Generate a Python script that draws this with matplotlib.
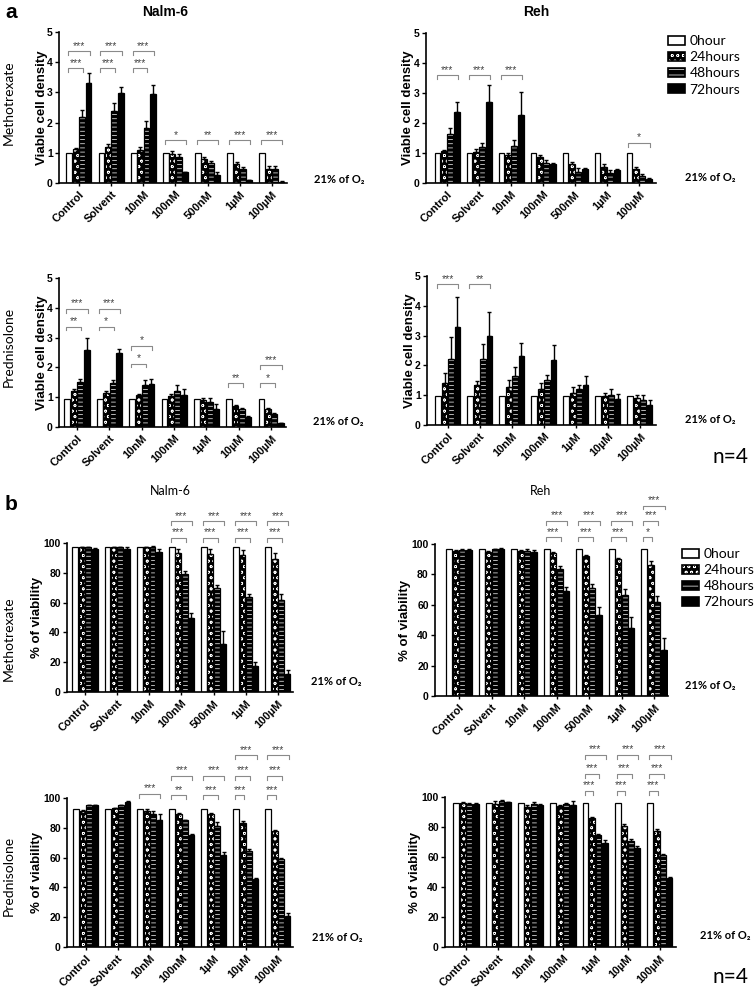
import matplotlib
matplotlib.use("Agg")
import matplotlib.pyplot as plt
import numpy as np
from matplotlib.patches import Patch
from matplotlib.legend_handler import HandlerTuple

plt.rcParams['font.family'] = ['Liberation Sans', 'DejaVu Sans']
plt.rcParams['hatch.linewidth'] = 0.5

# ---------------- data ----------------
series = ["0hour", "24hours", "48hours", "72hours"]
cats_mtx = ["Control", "Solvent", "10nM", "100nM", "500nM", "1µM", "100µM"]
cats_pred = ["Control", "Solvent", "10nM", "100nM", "1µM", "10µM", "100µM"]

# panel a: viable cell density (rows = 0h, 24h, 48h, 72h)
a_nalm_mtx = [[1.0, 1.0, 1.0, 1.0, 1.0, 1.0, 1.0],
              [1.12, 1.18, 1.08, 0.95, 0.8, 0.62, 0.48],
              [2.18, 2.4, 1.82, 0.87, 0.67, 0.47, 0.48],
              [3.3, 2.97, 2.95, 0.35, 0.25, 0.09, 0.04]]
a_nalm_mtx_err = [[0, 0, 0, 0, 0, 0, 0],
                  [0.03, 0.12, 0.12, 0.1, 0.05, 0.07, 0.09],
                  [0.25, 0.25, 0.22, 0.1, 0.07, 0.05, 0.09],
                  [0.34, 0.2, 0.3, 0.03, 0.1, 0.02, 0.02]]
a_reh_mtx = [[1.0, 1.0, 1.0, 1.0, 1.0, 1.0, 1.0],
             [1.08, 1.05, 0.93, 0.87, 0.65, 0.52, 0.48],
             [1.62, 1.2, 1.25, 0.67, 0.38, 0.35, 0.25],
             [2.37, 2.7, 2.27, 0.65, 0.47, 0.42, 0.15]]
a_reh_mtx_err = [[0, 0, 0, 0, 0, 0, 0],
                 [0.03, 0.1, 0.08, 0.05, 0.06, 0.13, 0.07],
                 [0.2, 0.13, 0.2, 0.1, 0.12, 0.08, 0.05],
                 [0.33, 0.57, 0.75, 0.03, 0.04, 0.06, 0.03]]
a_nalm_pred = [[0.95, 0.95, 0.95, 0.95, 0.95, 0.95, 0.95],
               [1.22, 1.15, 1.07, 1.05, 0.92, 0.72, 0.6],
               [1.5, 1.47, 1.42, 1.22, 0.85, 0.6, 0.42],
               [2.6, 2.5, 1.45, 1.08, 0.6, 0.32, 0.12]]
a_nalm_pred_err = [[0, 0, 0, 0, 0, 0, 0],
                   [0.05, 0.05, 0.04, 0.05, 0.04, 0.03, 0.04],
                   [0.1, 0.12, 0.15, 0.18, 0.13, 0.05, 0.05],
                   [0.37, 0.13, 0.17, 0.2, 0.17, 0.05, 0.03]]
a_reh_pred = [[0.97, 0.97, 0.97, 0.97, 0.97, 0.97, 0.97],
              [1.4, 1.35, 1.27, 1.22, 1.08, 0.97, 0.9],
              [2.22, 2.2, 1.65, 1.5, 1.2, 1.0, 0.85],
              [3.3, 3.0, 2.3, 2.17, 1.35, 0.88, 0.68]]
a_reh_pred_err = [[0, 0, 0, 0, 0, 0, 0],
                  [0.33, 0.12, 0.23, 0.2, 0.18, 0.12, 0.1],
                  [0.73, 0.52, 0.28, 0.18, 0.15, 0.2, 0.15],
                  [1.0, 0.8, 0.45, 0.53, 0.3, 0.15, 0.17]]

# panel b: % of viability
b_nalm_mtx = [[97, 97, 97, 97, 97, 97, 97],
              [97, 97, 97, 93, 92.5, 92, 89.5],
              [97, 97, 97.5, 79.5, 70, 63.5, 62],
              [96, 96, 94, 50, 32.5, 17.5, 12]]
b_nalm_mtx_err = [[0, 0, 0, 0, 0, 0, 0],
                  [0.5, 0.5, 0.5, 3, 3.5, 3.5, 4],
                  [0.5, 0.5, 0.7, 2, 2, 2.5, 4],
                  [0.5, 1.5, 2, 3, 8.5, 2.5, 2.5]]
b_reh_mtx = [[97, 97, 97, 97, 97, 97, 97],
             [95.5, 95, 95.5, 94, 92, 90, 86.5],
             [96, 96.5, 95.5, 83.5, 71, 66.5, 62],
             [96, 97, 95, 69, 53, 45, 30]]
b_reh_mtx_err = [[0, 0, 0, 0, 0, 0, 0],
                 [0.5, 0.5, 0.5, 1, 0.7, 1, 2],
                 [0.5, 0.5, 1.5, 2, 2.5, 4, 4],
                 [0.5, 0.5, 1, 3, 5.5, 7, 8]]
b_nalm_pred = [[92.5, 92.5, 92.5, 92.5, 92.5, 92.5, 92.5],
               [91.5, 93, 91.5, 89, 89, 83.5, 78],
               [95, 95, 89, 85, 81.5, 64.5, 59],
               [95, 97.5, 85, 75.5, 61.5, 45.5, 20.5]]
b_nalm_pred_err = [[0, 0, 0, 0, 0, 0, 0],
                   [0.5, 0.5, 1, 1, 1, 1, 0.5],
                   [0.5, 0.5, 2.5, 0.5, 2.5, 1.5, 1],
                   [0.5, 0.5, 4, 0.5, 2, 0.5, 2.5]]
b_reh_pred = [[96, 96, 96, 96, 96, 96, 96],
              [96, 95.5, 93.5, 94, 86, 81, 77.5],
              [95.5, 97.5, 95.5, 95.5, 74.5, 71, 61.5],
              [95.5, 96.5, 94.5, 95, 69.5, 66, 46]]
b_reh_pred_err = [[0, 0, 0, 0, 0, 0, 0],
                  [0.5, 2, 1.5, 0.5, 1, 1, 1],
                  [0.5, 0.5, 1.5, 0.5, 1, 1, 0.5],
                  [0.5, 0.5, 1, 2.5, 2, 1.5, 0.5]]

# significance brackets: (group, from series, to series, height, label)
a_nalm_mtx_sig = [(0, 0, 2, 3.8, "***"), (0, 0, 3, 4.36, "***"),
                  (1, 0, 2, 3.8, "***"), (1, 0, 3, 4.36, "***"),
                  (2, 0, 2, 3.8, "***"), (2, 0, 3, 4.36, "***"),
                  (3, 0, 3, 1.41, "*"), (4, 0, 3, 1.41, "**"),
                  (5, 0, 3, 1.41, "***"), (6, 0, 3, 1.41, "***")]
a_reh_mtx_sig = [(0, 0, 3, 3.6, "***"), (1, 0, 3, 3.6, "***"),
                 (2, 0, 3, 3.6, "***"), (6, 0, 3, 1.34, "*")]
a_nalm_pred_sig = [(0, 0, 2, 3.37, "**"), (0, 0, 3, 3.97, "***"),
                   (1, 0, 2, 3.37, "*"), (1, 0, 3, 3.97, "***"),
                   (2, 0, 2, 2.13, "*"), (2, 0, 3, 2.72, "*"),
                   (5, 0, 2, 1.46, "**"), (6, 0, 2, 1.46, "*"),
                   (6, 0, 3, 2.08, "***")]
a_reh_pred_sig = [(0, 0, 3, 4.72, "***"), (1, 0, 3, 4.72, "**")]
b_nalm_mtx_sig = [(3, 0, 2, 103.4, "***"), (3, 0, 3, 114.5, "***"),
                  (4, 0, 2, 103.4, "***"), (4, 0, 3, 114.5, "***"),
                  (5, 0, 2, 103.4, "***"), (5, 0, 3, 114.5, "***"),
                  (6, 0, 2, 103.4, "***"), (6, 0, 3, 114.5, "***")]
b_reh_mtx_sig = [(3, 0, 2, 104.4, "***"), (3, 0, 3, 115.4, "***"),
                 (4, 0, 2, 104.4, "***"), (4, 0, 3, 115.4, "***"),
                 (5, 0, 2, 104.4, "***"), (5, 0, 3, 115.4, "***"),
                 (6, 0, 1, 104.4, "*"), (6, 0, 2, 115.4, "***"),
                 (6, 0, 3, 125.3, "***")]
b_nalm_pred_sig = [(2, 0, 3, 102.9, "***"),
                   (3, 0, 2, 101.8, "**"), (3, 0, 3, 114.8, "***"),
                   (4, 0, 2, 101.8, "***"), (4, 0, 3, 114.8, "***"),
                   (5, 0, 1, 101.8, "***"), (5, 0, 2, 114.8, "***"), (5, 0, 3, 128.6, "***"),
                   (6, 0, 1, 101.8, "***"), (6, 0, 2, 114.8, "***"), (6, 0, 3, 128.6, "***")]
b_reh_pred_sig = [(4, 0, 1, 104.2, "***"), (4, 0, 2, 115.6, "***"), (4, 0, 3, 128.2, "***"),
                  (5, 0, 1, 104.2, "***"), (5, 0, 2, 115.6, "***"), (5, 0, 3, 128.2, "***"),
                  (6, 0, 1, 104.2, "***"), (6, 0, 2, 115.6, "***"), (6, 0, 3, 128.2, "***")]

# ---------------- drawing ----------------
W, H = 756, 992
fig = plt.figure(figsize=(W / 100, H / 100), dpi=100)

BW = 0.2
OFFS = (np.arange(4) - 1.5) * BW
BR_COLOR = '#8a8a8a'
HATCH24 = 'ooo'
HATCH48 = '----'


def fx(px):
    return px / W


def fy(py):
    return 1 - py / H


def make_ax(x0, x1, ytop, ybot):
    return fig.add_axes([fx(x0), fy(ybot), (x1 - x0) / W, (ybot - ytop) / H])


def draw_bars(ax, cats, means, errs):
    x = np.arange(len(cats))
    w = BW * 0.9
    for s in range(4):
        xs = x + OFFS[s]
        m = np.asarray(means[s], float)
        e = np.asarray(errs[s], float)
        if s == 0:
            ax.bar(xs, m, w, color='white', edgecolor='black', lw=0.9, zorder=2)
        elif s in (1, 2):
            ax.bar(xs, m, w, color='black', edgecolor='white',
                   hatch=HATCH24 if s == 1 else HATCH48, lw=0, zorder=2)
            ax.bar(xs, m, w, fill=False, edgecolor='black', lw=0.9, zorder=3)
        else:
            ax.bar(xs, m, w, color='black', edgecolor='black', lw=0.9, zorder=2)
        if np.any(e > 0):
            ax.errorbar(xs, m, yerr=[np.zeros_like(e), e], fmt='none', ecolor='black',
                        elinewidth=1.0, capsize=1.6, capthick=1.0, zorder=4)
    return x


def draw_sig(ax, sigs, tick):
    for g, i0, i1, y, lab in sigs:
        x0 = g + OFFS[i0] - 0.03
        x1 = g + OFFS[i1] + 0.03
        ax.plot([x0, x0, x1, x1], [y - tick, y, y, y - tick], color=BR_COLOR,
                lw=0.8, clip_on=False, zorder=5)
        ax.text((x0 + x1) / 2, y + tick * 0.1, lab, ha='center', va='bottom',
                fontsize=7.5, color='#444444', clip_on=False)


def style_ax(ax, cats, x, ymax, ystep, xlim, ylabel, label_x):
    ax.set_xlim(*xlim)
    ax.set_ylim(0, ymax)
    ax.set_yticks(np.arange(0, ymax + ystep / 2, ystep))
    ax.set_xticks(x)
    ax.set_xticklabels(cats, rotation=45, ha='right', rotation_mode='anchor',
                       fontweight='bold', fontsize=8)
    for lab in ax.get_yticklabels():
        lab.set_fontweight('bold')
        lab.set_fontsize(7.5)
    ax.tick_params(axis='y', length=3, width=1, pad=1.5)
    ax.tick_params(axis='x', length=2.5, width=1, pad=2)
    for sp in ['top', 'right']:
        ax.spines[sp].set_visible(False)
    for sp in ['left', 'bottom']:
        ax.spines[sp].set_linewidth(1.2)
    ax.set_ylabel(ylabel, fontweight='bold', fontsize=9.5)
    ax.yaxis.set_label_coords(label_x, 0.5)


panels = [
    # (ax px box, cats, means, errs, sigs, ymax, ystep, xlim, ylabel, label_x)
    ((59, 287, 32, 183), cats_mtx, a_nalm_mtx, a_nalm_mtx_err, a_nalm_mtx_sig, 5, 1,
     (-0.62, 6.47), "Viable cell density", -0.05),
    ((426, 656, 33, 183), cats_mtx, a_reh_mtx, a_reh_mtx_err, a_reh_mtx_sig, 5, 1,
     (-0.66, 6.53), "Viable cell density", -0.05),
    ((59, 286, 278, 427), cats_pred, a_nalm_pred, a_nalm_pred_err, a_nalm_pred_sig, 5, 1,
     (-0.56, 6.46), "Viable cell density", -0.05),
    ((427, 656, 276, 425), cats_pred, a_reh_pred, a_reh_pred_err, a_reh_pred_sig, 5, 1,
     (-0.65, 6.5), "Viable cell density", -0.05),
    ((67, 293, 543, 692), cats_mtx, b_nalm_mtx, b_nalm_mtx_err, b_nalm_mtx_sig, 100, 20,
     (-0.56, 6.47), "% of viability", -0.105),
    ((435, 668, 544, 696), cats_mtx, b_reh_mtx, b_reh_mtx_err, b_reh_mtx_sig, 100, 20,
     (-0.74, 6.43), "% of viability", -0.105),
    ((67, 293, 798, 947), cats_pred, b_nalm_pred, b_nalm_pred_err, b_nalm_pred_sig, 100, 20,
     (-0.59, 6.47), "% of viability", -0.105),
    ((445, 676, 797, 947), cats_pred, b_reh_pred, b_reh_pred_err, b_reh_pred_sig, 100, 20,
     (-0.65, 6.5), "% of viability", -0.105),
]

for box, cats, means, errs, sigs, ymax, ystep, xlim, ylabel, lx in panels:
    ax = make_ax(*box)
    x = draw_bars(ax, cats, means, errs)
    style_ax(ax, cats, x, ymax, ystep, xlim, ylabel, lx)
    draw_sig(ax, sigs, ymax * 0.026)

# ---------------- legends ----------------
h0 = Patch(facecolor='white', edgecolor='black', lw=1.2)
h1 = (Patch(facecolor='black', edgecolor='white', hatch='ooo', lw=0),
      Patch(fill=False, edgecolor='black', lw=1.2))
h2 = (Patch(facecolor='black', edgecolor='white', hatch='---', lw=0),
      Patch(fill=False, edgecolor='black', lw=1.2))
h3 = Patch(facecolor='black', edgecolor='black', lw=1.2)
for (lx, ly) in [(668, 35), (682, 548)]:
    fig.legend([h0, h1, h2, h3], series, loc='upper left',
               bbox_to_anchor=(fx(lx), fy(ly)), frameon=False,
               handler_map={tuple: HandlerTuple(ndivide=1)},
               prop={'family': ['Lato', 'DejaVu Sans'], 'size': 10},
               handlelength=1.2, handleheight=0.6, labelspacing=0.3,
               handletextpad=0.35, borderpad=0, borderaxespad=0)

# ---------------- figure texts ----------------
fig.text(fx(5), fy(12), "a", fontsize=15, fontweight='bold', ha='left', va='center')
fig.text(fx(5), fy(505), "b", fontsize=15, fontweight='bold', ha='left', va='center')
fig.text(fx(165), fy(12), "Nalm-6", fontsize=10, fontweight='bold', ha='center', va='center')
fig.text(fx(536), fy(12), "Reh", fontsize=10, fontweight='bold', ha='center', va='center')
fig.text(fx(170), fy(491), "Nalm-6", fontsize=9, ha='center', va='center',
         family=['Lato', 'DejaVu Sans'])
fig.text(fx(541), fy(491), "Reh", fontsize=9, ha='center', va='center',
         family=['Lato', 'DejaVu Sans'])

for (tx, ty, t) in [(9, 103, "Methotrexate"), (9, 347, "Prednisolone"),
                    (9, 639, "Methotrexate"), (9, 876, "Prednisolone")]:
    fig.text(fx(tx), fy(ty), t, rotation=90, fontsize=10, ha='center', va='center',
             family=['Lato', 'DejaVu Sans'])

o2 = "21% of O\u2082"
for (tx, ty) in [(339, 179), (710, 178), (338, 422), (710, 420),
                 (336, 682), (710, 686), (337, 937), (725, 936)]:
    fig.text(fx(tx), fy(ty), o2, fontsize=8, fontweight='bold', ha='center', va='center',
             family=['Lato', 'DejaVu Sans'])

for (tx, ty) in [(730, 457), (730, 977)]:
    fig.text(fx(tx), fy(ty), "n=4", fontsize=15, ha='center', va='center',
             family=['Lato', 'DejaVu Sans'])

fig.savefig("out.png", dpi=100)
